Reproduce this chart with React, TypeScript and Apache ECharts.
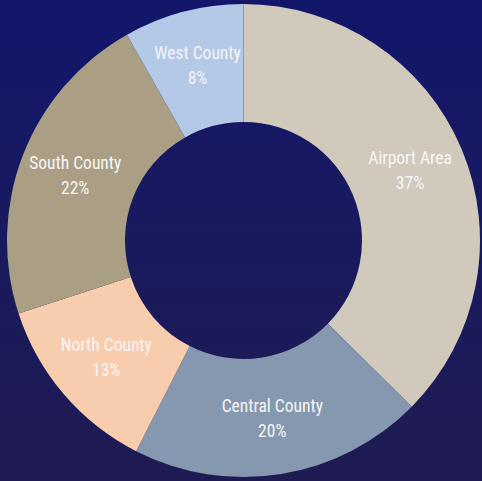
import React, { useEffect, useRef } from "react";
import * as echarts from "echarts";

const categories = ["Airport Area", "Central County", "North County", "South County", "West County"];
const values = [37.4, 20.1, 12.5, 21.8, 8.2];
const colors = ["#d1c9bb", "#8598b0", "#f8cdae", "#aa9f85", "#b4c8e8"];

export default function App() {
  const ref = useRef<HTMLDivElement>(null);
  useEffect(() => {
    if (!ref.current) return;
    const chart = echarts.init(ref.current, undefined, { renderer: "svg" });
    chart.setOption({
      animation: false,
      backgroundColor: {
        type: "linear",
        x: 0,
        y: 0,
        x2: 0,
        y2: 1,
        colorStops: [
          { offset: 0, color: "#12166a" },
          { offset: 0.5, color: "#191a5e" },
          { offset: 1, color: "#1f1b52" },
        ],
      },
      series: [
        {
          type: "pie",
          center: [243.5, 240.5],
          radius: [118.5, 236.5],
          startAngle: 90,
          clockwise: true,
          avoidLabelOverlap: false,
          itemStyle: { borderWidth: 0 },
          label: {
            show: true,
            position: "inside",
            color: "#f6f6f6",
            fontFamily: "'Roboto Condensed', Roboto, sans-serif",
            fontWeight: 400,
            fontSize: 17.5,
            lineHeight: 25,
            formatter: (p: any) => `${p.name}\n${Math.round(p.percent)}%`,
          },
          labelLine: { show: false },
          emphasis: { disabled: true },
          data: categories.map((c, i) => ({
            name: c,
            value: values[i],
            itemStyle: { color: colors[i] },
          })),
        },
      ],
    });
    return () => chart.dispose();
  }, []);
  return (
    <div
      ref={ref}
      style={{ position: "fixed", left: 0, top: 0, width: 482, height: 481 }}
    />
  );
}
